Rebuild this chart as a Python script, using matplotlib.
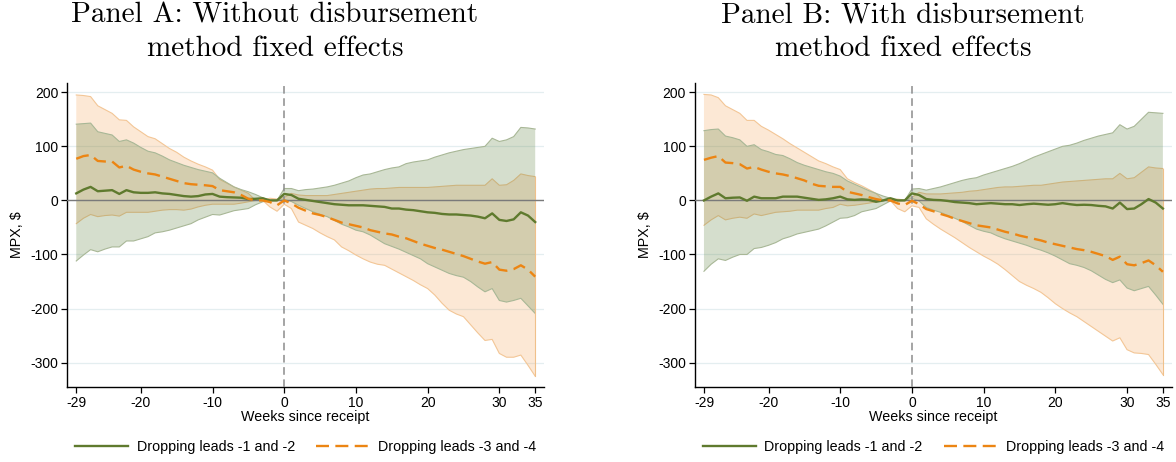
import numpy as np
import matplotlib
matplotlib.use("Agg")
import matplotlib.pyplot as plt

weeks = list(range(-29, 36))

# ---------------- Panel A: without disbursement method FE ----------------
a_green_mean = [13, 20, 25, 17, 18, 19, 12, 19, 15, 14, 14, 15, 13, 12, 10, 8, 7, 8, 11, 12,
                7, 6, 5.5, 5, 2.5, 3, 4, 0, 0,
                12, 10, 3, 1, -1, -3, -5, -7, -8, -9, -9, -9, -10, -11, -12, -15, -15, -17, -18,
                -20, -22, -23, -25, -26, -26, -27, -28, -30, -33, -24, -36, -38, -35, -22, -28, -40]
a_green_hi = [141, 142, 143, 127, 124, 121, 109, 112, 106, 98, 91, 88, 82, 75, 70, 65, 61, 57, 54, 51,
              41, 33, 25, 20, 16, 11, 5, 0, 0,
              22, 22, 18, 20, 21, 23, 25, 28, 32, 36, 42, 47, 49, 53, 57, 60, 62, 68, 71,
              73, 75, 80, 84, 88, 91, 94, 96, 98, 100, 115, 109, 112, 118, 135, 134, 132]
a_green_lo = [-112, -101, -91, -95, -90, -86, -86, -75, -75, -71, -67, -60, -58, -55, -51, -47, -43, -36, -31, -26,
              -27, -23, -19, -17, -15, -8, -2.5, 0, 0,
              2, -2, -9, -15, -21, -26, -30, -37, -44, -49, -55, -58, -64, -72, -80, -85, -90, -96, -102,
              -108, -117, -123, -129, -135, -139, -142, -150, -160, -169, -163, -185, -188, -185, -181, -195, -209]
a_orange_mean = [77, 82, 84, 73, 72, 72, 61, 64, 57, 53, 50, 48, 44, 40, 36, 32, 30, 29, 28, 26.5,
                 19, 17, 15, 10, 3, 0, 0, -3, -9,
                 0, -5.5, -13.6, -19, -24, -27, -31, -36, -41, -44, -47, -50, -55, -58, -61, -63, -67, -70, -75,
                 -80, -84, -88, -91, -95, -99, -103, -108, -113, -117, -114, -128, -130, -127, -120, -128, -141]
a_orange_hi = [195, 194, 192, 175, 168, 161, 149, 148, 136, 127, 118, 114, 105, 96, 89, 80, 73, 67, 62, 56,
               39, 32, 25, 19, 13, 0, 0, 4, 2.5,
               5.5, 13, 10, 9, 9, 9, 9, 11, 13, 15, 17, 19, 21, 22, 22, 23, 24, 24, 24,
               24, 24, 25, 26, 27, 28, 28, 28, 28, 28, 40, 28, 29, 37, 49, 46, 44]
a_orange_lo = [-43, -33, -26, -30, -28, -27, -29, -22, -22, -22, -22, -20, -18, -17, -17, -18, -16, -12, -9, -7,
               -7, -7, -7, -5, -2.5, 0, 0, -12, -20,
               -7, -15, -40, -46, -52, -60, -67, -73, -86, -93, -101, -108, -114, -118, -120, -127, -134, -141, -148,
               -156, -163, -175, -190, -203, -210, -215, -230, -245, -259, -257, -283, -290, -290, -286, -305, -325]

# ---------------- Panel B: with disbursement method FE ----------------
b_green_mean = [0, 7, 13, 4, 5, 5.5, -0.6, 7, 4, 4, 4, 7, 7, 7, 5, 3, 1, 2, 4, 7,
                2, 1, 2, 1, -2.5, 0, 4, 0, 0,
                13, 10, 2.5, 1, 0.5, -1, -3, -4, -5, -7, -6, -5, -6, -7, -7, -8.5, -7, -6, -7,
                -8, -7, -5, -7, -8.5, -8, -8.5, -10, -11, -15, -4, -16, -15, -7, 2.5, -4, -15]
b_green_hi = [129, 131, 132, 119, 116, 112, 100, 103, 94, 90, 85, 83, 77, 70, 65, 61, 57, 53, 50, 45,
              36, 30, 24, 18, 13, 8, 4, 0, 0,
              21, 22, 19, 22, 25, 29, 33, 37, 40, 42, 47, 51, 55, 59, 63, 68, 74, 80, 85,
              90, 95, 100, 102, 106, 111, 115, 119, 122, 125, 140, 132, 137, 150, 163, 162, 161]
b_green_lo = [-131, -118, -108, -111, -105, -100, -100, -89, -87, -83, -78, -71, -67, -62, -59, -56, -53, -47, -40, -33,
              -32, -28, -21, -18, -15, -8, -1, 0, 0,
              4, -1, -13, -18, -22, -28, -33, -39, -46, -53, -57, -60, -66, -71, -75, -79, -83, -88, -92,
              -97, -103, -110, -117, -120, -124, -130, -138, -146, -152, -147, -162, -167, -163, -159, -175, -192]
b_orange_mean = [75, 79, 82, 70, 69, 67, 59, 62, 57, 53, 50, 48, 45, 41, 37, 31, 27, 26, 25, 25,
                 16, 13, 10, 6, 2.5, 0, 0, -5.5, -8.5,
                 -0.6, -7, -16, -20, -25, -29, -34, -38, -42, -46, -48, -50, -54, -58, -61, -65, -68, -71, -74,
                 -78, -81, -84, -87, -90, -92, -95, -99, -103, -110, -104, -118, -120, -116, -111, -120, -132]
b_orange_hi = [196, 195, 190, 175, 168, 161, 148, 148, 137, 130, 122, 114, 105, 97, 89, 81, 73, 68, 62, 57,
               40, 33, 27, 20, 13, 0, 0, 2.5, 0.6,
               5.5, 15, 12, 12, 12, 13, 14, 15, 17, 18, 20, 22, 24, 25, 25, 26, 27, 28, 28,
               30, 32, 34, 35, 36, 37, 38, 39, 40, 40, 50, 40, 42, 52, 62, 60, 59]
b_orange_lo = [-46, -36, -28, -36, -33, -31, -33, -25, -28, -25, -22, -21, -20, -18, -18, -18, -18, -15, -13, -7,
               -10, -9, -7, -5, -2.5, 0, 0, -15, -21,
               -10, -13, -34, -44, -53, -61, -69, -78, -87, -95, -103, -110, -118, -128, -139, -150, -157, -163, -170,
               -180, -191, -200, -208, -215, -224, -233, -242, -251, -260, -254, -276, -282, -283, -285, -303, -322]

titles = [("Panel A: Without disbursement", "method fixed effects"),
          ("Panel B: With disbursement", "method fixed effects")]
xticks = [-29, -20, -10, 0, 10, 20, 30, 35]
yticks = [-300, -200, -100, 0, 100, 200]
legend_labels = ["Dropping leads -1 and -2", "Dropping leads -3 and -4"]

GREEN = "#5f7a2e"
ORANGE = "#ec8513"
GREEN_FILL = "#5b7f3a"
ORANGE_FILL = "#f5a55a"

plt.rcParams["font.family"] = ["Liberation Sans", "DejaVu Sans"]
plt.rcParams["axes.unicode_minus"] = False

fig = plt.figure(figsize=(11.76, 4.62), dpi=100)
W, H = 1176.0, 462.0
ax_top, ax_bot = 83.3, 386.7
axes_lefts = [67.3, 695.0]
ax_w = 476.5
title_cx = [275.0, 903.0]

panels = [
    (a_green_mean, a_green_lo, a_green_hi, a_orange_mean, a_orange_lo, a_orange_hi),
    (b_green_mean, b_green_lo, b_green_hi, b_orange_mean, b_orange_lo, b_orange_hi),
]

x = np.array(weeks)
for i, (gm, glo, ghi, om, olo, ohi) in enumerate(panels):
    ax = fig.add_axes([axes_lefts[i] / W, 1 - ax_bot / H, ax_w / W, (ax_bot - ax_top) / H])
    ax.set_xlim(-30.25, 36.2)
    ax.set_ylim(-344.5, 216.6)
    for yt in yticks:
        ax.axhline(yt, color="#e4eef0", lw=0.9, zorder=0)
    ax.fill_between(x, olo, ohi, facecolor=ORANGE_FILL, alpha=0.25, edgecolor="none", zorder=1)
    ax.plot(x, ohi, color="#f3c696", lw=0.8, zorder=1.1)
    ax.plot(x, olo, color="#f3c696", lw=0.8, zorder=1.1)
    ax.fill_between(x, glo, ghi, facecolor=GREEN_FILL, alpha=0.25, edgecolor="none", zorder=2)
    ax.plot(x, ghi, color="#a8b796", lw=0.8, zorder=2.1)
    ax.plot(x, glo, color="#a8b796", lw=0.8, zorder=2.1)
    ax.plot([x[-1], x[-1]], [olo[-1], ohi[-1]], color="#f0c08a", lw=0.8, zorder=2.2)
    ax.axhline(0, color="#7a7a7a", lw=1.0, zorder=3)
    ax.axvline(0, color="#8c8c8c", lw=1.1, ls=(0, (5, 3)), zorder=3)
    l1, = ax.plot(x, gm, color=GREEN, lw=1.7, zorder=4, label=legend_labels[0])
    l2, = ax.plot(x, om, color=ORANGE, lw=1.7, ls=(0, (5.5, 2.7)), zorder=4, label=legend_labels[1])

    ax.spines["top"].set_visible(False)
    ax.spines["right"].set_visible(False)
    ax.spines["left"].set_linewidth(1.0)
    ax.spines["bottom"].set_linewidth(1.0)
    ax.set_xticks(xticks)
    ax.set_yticks(yticks)
    ax.tick_params(axis="both", direction="out", length=4.5, width=0.9, labelsize=10, colors="black")
    ax.tick_params(axis="y", pad=2)
    ax.tick_params(axis="x", pad=2)
    ax.set_xlabel("Weeks since receipt", fontsize=10.3)
    ax.xaxis.label.set_va("center")
    ax.xaxis.set_label_coords(0.5, (ax_bot - 417.0) / (ax_bot - ax_top))
    ax.set_ylabel("MPX, $", fontsize=10.3)
    ax.yaxis.label.set_va("center")
    ax.yaxis.set_label_coords(-49.8 / ax_w, 0.5)

    ax.legend(handles=[l1, l2], loc="center",
              bbox_to_anchor=(0.5, (ax_bot - 446.7) / (ax_bot - ax_top)),
              ncol=2, frameon=False, fontsize=10.3, handlelength=3.7,
              handletextpad=0.6, columnspacing=1.5)

    fig.text(title_cx[i] / W, 1 - 15.0 / H, titles[i][0], ha="center", va="center",
             family="cmr10", fontsize=21)
    fig.text(title_cx[i] / W, 1 - 49.0 / H, titles[i][1], ha="center", va="center",
             family="cmr10", fontsize=21)

fig.savefig("out.png", dpi=100, facecolor="white")
